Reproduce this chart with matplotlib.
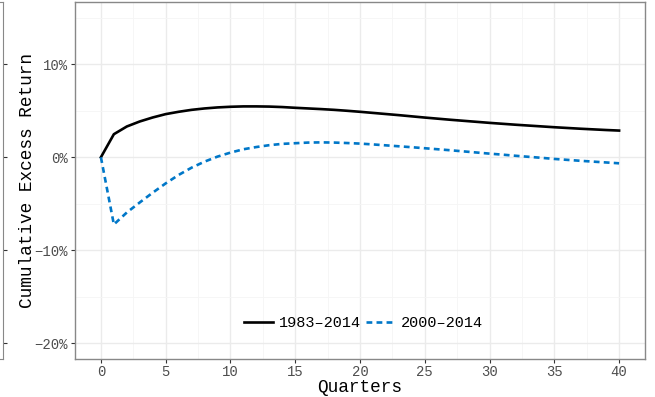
import numpy as np
import matplotlib.pyplot as plt
from matplotlib.ticker import FuncFormatter, MultipleLocator

# cumulative excess return (%) by quarter
quarters = list(range(41))
ret_1983 = [0.00, 2.48, 3.31, 3.85, 4.28, 4.64, 4.89, 5.10, 5.25, 5.36,
            5.43, 5.47, 5.47, 5.45, 5.40, 5.32, 5.25, 5.18, 5.10, 5.00,
            4.89, 4.77, 4.65, 4.53, 4.40, 4.27, 4.15, 4.03, 3.92, 3.81,
            3.70, 3.60, 3.50, 3.41, 3.32, 3.23, 3.15, 3.07, 3.00, 2.93,
            2.87]
ret_2000 = [0.00, -7.23, -5.94, -4.86, -3.81, -2.81, -1.90, -1.12, -0.47, 0.07,
            0.50, 0.86, 1.10, 1.30, 1.44, 1.51, 1.58, 1.60, 1.58, 1.53,
            1.47, 1.38, 1.28, 1.18, 1.08, 0.97, 0.86, 0.75, 0.63, 0.51,
            0.39, 0.28, 0.16, 0.05, -0.06, -0.18, -0.28, -0.38, -0.47, -0.56,
            -0.65]
labels = ['1983\u20132014', '2000\u20132014']
x_ticks = [0, 5, 10, 15, 20, 25, 30, 35, 40]
y_ticks = [-20, -10, 0, 10]

plt.rcParams['font.family'] = ['Liberation Mono', 'DejaVu Sans Mono']

fig = plt.figure(figsize=(6.55, 3.97), dpi=100)
W, H = 655.0, 397.0

# right edge of a neighbouring panel that is cut off at the left
side = fig.add_axes([-0.1, 1 - 359 / H, 0.1 + 3 / W, 357 / H])
side.set_xlim(0, 1)
side.set_ylim(-21.7, 16.7)
side.set_xticks([])
side.set_yticks(y_ticks)
side.tick_params(axis='y', left=False, right=True, labelleft=False,
                 color='#333333', length=3)
for s in side.spines.values():
    s.set_color('#888888')

ax = fig.add_axes([75 / W, 1 - 359 / H, 570 / W, 357 / H])
ax.set_xlim(-2, 42)
ax.set_ylim(-21.7, 16.7)

ax.xaxis.set_major_locator(MultipleLocator(5))
ax.xaxis.set_minor_locator(MultipleLocator(2.5))
ax.yaxis.set_major_locator(MultipleLocator(10))
ax.yaxis.set_minor_locator(MultipleLocator(5))
ax.grid(which='major', color='#EBEBEB', linewidth=1.0)
ax.grid(which='minor', color='#F5F5F5', linewidth=0.6)
ax.set_axisbelow(True)
ax.set_xticks(x_ticks)
ax.set_yticks(y_ticks)
ax.yaxis.set_major_formatter(
    FuncFormatter(lambda v, p: ('%d%%' % v).replace('-', '\u2212')))
ax.tick_params(which='major', length=3, color='#333333', labelsize=10,
               labelcolor='#4D4D4D', pad=2)
ax.tick_params(axis='x', pad=1)
ax.tick_params(which='minor', length=0)
for s in ax.spines.values():
    s.set_color('#888888')
    s.set_linewidth(1.0)

ax.plot(quarters, ret_1983, color='black', linewidth=1.9, label=labels[0])
ax.plot(quarters, ret_2000, color='#0077C8', linewidth=1.9,
        linestyle=(0, (2.2, 1.6)), label=labels[1])

ax.set_xlabel('Quarters', fontsize=12.8, labelpad=0)
ax.set_ylabel('Cumulative Excess Return', fontsize=12.8, labelpad=-1)

ax.legend(loc='center', bbox_to_anchor=(0.506, 0.101), ncol=2, frameon=False,
          fontsize=11, handlelength=1.9, handletextpad=0.4, columnspacing=0.3,
          borderpad=0)

fig.savefig('out.png', dpi=100)
